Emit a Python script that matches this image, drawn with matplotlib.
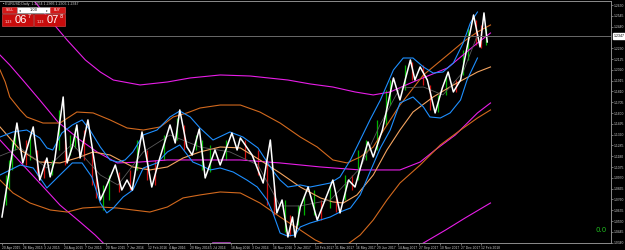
import numpy as np
import matplotlib
matplotlib.use("Agg")
import matplotlib.pyplot as plt
from matplotlib.patches import Rectangle
from matplotlib.transforms import blended_transform_factory

# x axis: bar numbers, a date label every 32 bars
date_labels = ["20 Apr 2015", "26 May 2015", "3 Jul 2015", "24 Aug 2015", "7 Oct 2015",
               "20 Nov 2015", "7 Jan 2016", "12 Feb 2016", "4 Apr 2016", "20 May 2016",
               "5 Jul 2016", "18 Aug 2016", "3 Oct 2016", "16 Nov 2016", "2 Jan 2017",
               "13 Feb 2017", "31 Mar 2017", "16 May 2017", "29 Jun 2017", "14 Aug 2017",
               "27 Sep 2017", "10 Nov 2017", "27 Dec 2017", "12 Feb 2018"]
label_step = 32

# y axis: price scale
price_top = 1.2650
price_step = 0.0105
n_price_ticks = 23
last_price = 1.2347
header = "EURUSD,Daily  1.2354 1.2366 1.2306 1.2347"

# white zigzag
zz_bar = [0, 23, 32, 48, 58, 69, 74, 81, 94, 100, 108, 115, 120, 132, 151, 158, 174, 184, 192, 200,
          215, 230, 240, 258, 266, 273, 284, 292, 303, 312, 327, 335, 353, 361, 366, 384, 401, 412, 422, 430,
          439, 446, 450, 458, 470, 484, 496, 508, 519, 532, 542, 555, 562, 570, 584, 601, 611, 627, 634, 642,
          653, 665, 676, 685, 693, 704, 724, 734, 740, 745]
zz_price = [1.0590, 1.1503, 1.1115, 1.1465, 1.0949, 1.1163, 1.0979, 1.1144, 1.1756, 1.1115,
            1.1270, 1.1484, 1.1163, 1.1533, 1.0755, 1.0852, 1.1095, 1.0852, 1.0949, 1.0852,
            1.1416, 1.0881, 1.1115, 1.1484, 1.1309, 1.1630, 1.1270, 1.1192, 1.1445, 1.0969,
            1.1241, 1.1095, 1.1406, 1.1241, 1.1358, 1.1192, 1.0920, 1.1338, 1.0629, 1.0755,
            1.0395, 1.0590, 1.0395, 1.0687, 1.0881, 1.0561, 1.0755, 1.0949, 1.0629, 1.0949,
            1.0881, 1.1173, 1.1319, 1.1173, 1.1435, 1.1941, 1.1727, 1.2116, 1.1921, 1.2048,
            1.1921, 1.1601, 1.1844, 1.1999, 1.1805, 1.1921, 1.2553, 1.2242, 1.2573, 1.2291]

# short bands (blue) and their middle (gray)
bb_up_bar = [-3, 17, 38, 58, 69, 78, 92, 108, 123, 135, 151, 166, 178, 189, 201, 217, 238, 258, 273, 289,
             304, 324, 350, 370, 393, 415, 427, 439, 458, 473, 489, 504, 519, 535, 550, 565, 581, 601, 616, 631,
             647, 662, 677, 693, 708, 719, 730]
bb_up = [1.1367, 1.1416, 1.1435, 1.1358, 1.1261, 1.1241, 1.1406, 1.1484, 1.1533, 1.1435,
         1.1270, 1.1144, 1.1124, 1.1144, 1.1222, 1.1387, 1.1435, 1.1562, 1.1620, 1.1562,
         1.1455, 1.1338, 1.1416, 1.1367, 1.1261, 1.1047, 1.0949, 1.0881, 1.0901, 1.0881,
         1.0901, 1.0920, 1.0979, 1.1144, 1.1338, 1.1533, 1.1727, 1.2019, 1.2135, 1.2135,
         1.2048, 1.1989, 1.1999, 1.2087, 1.2281, 1.2475, 1.2582]
bb_lo_bar = [-3, 28, 48, 69, 86, 108, 123, 138, 151, 161, 171, 186, 201, 217, 238, 254, 273, 293, 304, 320,
             335, 355, 376, 392, 407, 416, 427, 438, 450, 458, 473, 489, 504, 519, 535, 550, 565, 581, 596, 611,
             631, 647, 657, 673, 688, 704, 714, 730]
bb_lo = [1.0998, 1.1095, 1.1066, 1.0872, 1.0979, 1.1115, 1.1115, 1.0979, 1.0726, 1.0629,
         1.0677, 1.0784, 1.0852, 1.1066, 1.1115, 1.1222, 1.1290, 1.1124, 1.1095, 1.1047,
         1.1066, 1.1027, 1.0949, 1.0881, 1.0755, 1.0629, 1.0434, 1.0405, 1.0415, 1.0493,
         1.0531, 1.0561, 1.0590, 1.0638, 1.0677, 1.0804, 1.1027, 1.1261, 1.1435, 1.1698,
         1.1756, 1.1659, 1.1562, 1.1552, 1.1601, 1.1727, 1.1921, 1.2135]
bb_mid_bar = [-3, 28, 69, 108, 151, 178, 217, 258, 304, 350, 393, 427, 458, 504, 550, 581, 611, 647, 677, 708, 730]
bb_mid = [1.1183, 1.1261, 1.1066, 1.1299, 1.0998, 1.0901, 1.1222, 1.1387, 1.1270, 1.1222,
          1.1095, 1.0697, 1.0697, 1.0755, 1.1066, 1.1494, 1.1844, 1.1853, 1.1776, 1.1999, 1.2359]

# medium bands (orange)
or_up_bar = [-3, 5, 12, 28, 38, 63, 89, 115, 140, 166, 192, 217, 243, 263, 284, 304, 335, 366, 396, 427,
             458, 484, 508, 530, 550, 570, 591, 611, 647, 684, 708, 730, 750]
or_up = [1.2019, 1.1902, 1.1756, 1.1630, 1.1562, 1.1503, 1.1503, 1.1610, 1.1601, 1.1533,
         1.1455, 1.1435, 1.1465, 1.1562, 1.1601, 1.1649, 1.1678, 1.1678, 1.1610, 1.1503,
         1.1367, 1.1270, 1.1144, 1.1115, 1.1173, 1.1270, 1.1484, 1.1678, 1.1970, 1.2164,
         1.2291, 1.2388, 1.2456]
or_mid_bar = [-3, 28, 58, 89, 115, 140, 166, 201, 227, 254, 278, 304, 335, 366, 396, 427, 458, 489, 508, 524,
              545, 570, 591, 611, 631, 662, 693, 730, 750]
or_mid = [1.1465, 1.1241, 1.1124, 1.1115, 1.1163, 1.1222, 1.1192, 1.1076, 1.1047, 1.1076,
          1.1163, 1.1222, 1.1270, 1.1261, 1.1144, 1.1017, 1.0881, 1.0775, 1.0736, 1.0726,
          1.0804, 1.0998, 1.1241, 1.1435, 1.1610, 1.1756, 1.1873, 1.1999, 1.2048]
or_lo_bar = [-3, 17, 43, 74, 100, 124, 151, 177, 201, 227, 254, 278, 304, 335, 366, 396, 427, 458, 481, 501,
             527, 550, 570, 591, 611, 642, 673, 704, 730, 750]
or_lo = [1.0949, 1.0823, 1.0726, 1.0658, 1.0638, 1.0677, 1.0687, 1.0677, 1.0658, 1.0638,
         1.0687, 1.0775, 1.0804, 1.0833, 1.0823, 1.0726, 1.0590, 1.0463, 1.0366, 1.0308,
         1.0308, 1.0415, 1.0561, 1.0755, 1.0920, 1.1095, 1.1290, 1.1435, 1.1552, 1.1630]

# long bands (magenta); the lower one leaves the window and comes back
mg_up_bar = [40, 48, 74, 100, 128, 151, 171, 212, 254, 289, 335, 381, 439, 473, 508, 542, 570, 596, 631, 684, 730, 750]
mg_up = [1.2748, 1.2699, 1.2505, 1.2310, 1.2116, 1.1999, 1.1921, 1.1873, 1.1902, 1.1941,
         1.1970, 1.1960, 1.1921, 1.1883, 1.1853, 1.1805, 1.1776, 1.1805, 1.1902, 1.2038, 1.2281, 1.2378]
mg_mid_bar = [-3, 12, 32, 58, 86, 120, 146, 177, 212, 254, 304, 366, 427, 489, 550, 611, 642, 665, 696, 730, 750]
mg_mid = [1.2164, 1.2067, 1.1921, 1.1727, 1.1513, 1.1338, 1.1222, 1.1115, 1.1124, 1.1144,
          1.1144, 1.1144, 1.1115, 1.1076, 1.1047, 1.1047, 1.1124, 1.1241, 1.1387, 1.1601, 1.1698]
mg_lo_bar = [-3, 28, 58, 89, 120, 143, 163, np.nan, 630, 647, 681, 711, 750]
mg_lo = [1.1338, 1.1124, 1.0920, 1.0706, 1.0541, 1.0415, 1.0289, np.nan, 1.0269, 1.0337, 1.0463, 1.0580, 1.0726]

# visible candles: bar, high, low, up(1)/down(0)
cd_bar = [6, 11, 15, 20, 37, 43, 54, 65, 77, 88, 97, 105, 112, 126, 138, 144, 155, 164, 180, 197,
          207, 223, 235, 249, 269, 280, 298, 307, 320, 344, 373, 393, 407, 418, 435, 442, 455, 464, 479, 490,
          504, 513, 527, 538, 547, 559, 576, 590, 596, 619, 630, 647, 657, 670, 681, 697, 708, 716, 728, 736, 743]
cd_high = [1.0998, 1.1144, 1.1338, 1.1435, 1.1338, 1.1387, 1.1241, 1.1144, 1.1144, 1.1630,
           1.1338, 1.1387, 1.1455, 1.1435, 1.1241, 1.1047, 1.0901, 1.0998, 1.1027, 1.1047,
           1.1338, 1.1241, 1.1144, 1.1387, 1.1552, 1.1484, 1.1387, 1.1338, 1.1290, 1.1338,
           1.1338, 1.1241, 1.1144, 1.0901, 1.0755, 1.0609, 1.0706, 1.0804, 1.0852, 1.0755,
           1.0901, 1.0804, 1.0998, 1.0998, 1.1241, 1.1338, 1.1533, 1.1824, 1.1921, 1.2067,
           1.2096, 1.2067, 1.1873, 1.1776, 1.1970, 1.1921, 1.2213, 1.2427, 1.2505, 1.2456, 1.2427]
cd_low = [1.0706, 1.0852, 1.1047, 1.1241, 1.1095, 1.1144, 1.0998, 1.0969, 1.0998, 1.1241,
          1.1095, 1.1192, 1.1261, 1.1144, 1.0901, 1.0775, 1.0658, 1.0755, 1.0833, 1.0852,
          1.1047, 1.0949, 1.0901, 1.1144, 1.1338, 1.1241, 1.1241, 1.1047, 1.1027, 1.1144,
          1.1144, 1.0998, 1.0706, 1.0609, 1.0444, 1.0405, 1.0512, 1.0609, 1.0609, 1.0561,
          1.0677, 1.0638, 1.0755, 1.0852, 1.0949, 1.1144, 1.1241, 1.1484, 1.1678, 1.1824,
          1.1921, 1.1873, 1.1630, 1.1610, 1.1776, 1.1805, 1.1970, 1.2116, 1.2262, 1.2232, 1.2262]
cd_up = [1, 1, 1, 1, 0, 1, 0, 0, 1, 1, 0, 1, 1, 0, 0, 0, 1, 1, 0, 0,
         1, 0, 0, 1, 1, 0, 1, 1, 1, 1, 0, 0, 0, 0, 1, 0, 1, 1, 1, 0,
         1, 0, 1, 0, 1, 1, 1, 1, 1, 1, 0, 0, 0, 1, 1, 0, 1, 1, 0, 0, 1]

W, H = 625, 250
fig = plt.figure(figsize=(W / 100, H / 100), dpi=100, facecolor="black")
ax = fig.add_axes([0, 7 / H, 611 / W, 242 / H], facecolor="black")

ax.vlines(cd_bar, cd_low, cd_high, colors=["#00b400" if u else "#d01010" for u in cd_up], lw=0.9)

ax.plot(mg_up_bar, mg_up, color="#e81ee8", lw=0.8)
ax.plot(mg_mid_bar, mg_mid, color="#e81ee8", lw=0.8)
ax.plot(mg_lo_bar, mg_lo, color="#e81ee8", lw=0.8)
ax.plot(or_up_bar, or_up, color="#d2691e", lw=0.8)
ax.plot(or_lo_bar, or_lo, color="#d2691e", lw=0.8)
ax.plot(or_mid_bar, or_mid, color="#f4a460", lw=0.8)
ax.plot(bb_mid_bar, bb_mid, color="#5a5a5a", lw=0.6)
ax.plot(bb_up_bar, bb_up, color="#1e8fff", lw=0.8)
ax.plot(bb_lo_bar, bb_lo, color="#1e8fff", lw=0.8)
ax.plot(zz_bar, zz_price, color="white", lw=1.1)

# current price line and its label on the axis
ax.axhline(last_price, color="#6a6a6a", lw=0.7)
trans = blended_transform_factory(ax.transAxes, ax.transData)
ax.text(1.004, last_price, f"{last_price:.4f}", transform=trans, fontsize=2.5,
        color="black", va="center", ha="left", family="Liberation Sans",
        bbox=dict(boxstyle="square,pad=0.25", fc="white", ec="white"))

ax.set_xlim(-3, 935)
ax.set_ylim(1.0337, 1.2689)

# the tick hidden under the price label is left out
yt = [price_top - price_step * k for k in range(n_price_ticks)]
yt = [v for v in yt if abs(v - last_price) > 0.005]
ax.set_yticks(yt)
ax.set_yticklabels([f"{v:.4f}" for v in yt])
ax.yaxis.tick_right()
xt = [label_step * i for i in range(len(date_labels))]
ax.set_xticks(xt)
ax.set_xticklabels(date_labels)
for lab in ax.get_xticklabels():
    lab.set_horizontalalignment("left")
ax.tick_params(axis="both", colors="#9a9a9a", labelcolor="#c8c8c8", labelsize=2.4,
               length=1.5, width=0.5, pad=0.8)
for lab in ax.get_xticklabels() + ax.get_yticklabels():
    lab.set_family("Liberation Sans")

ax.spines["left"].set_visible(False)
for side in ["right", "bottom", "top"]:
    ax.spines[side].set_color("#8c8c8c")
    ax.spines[side].set_linewidth(0.7)

# purple marker on the time axis
ax.plot([324, 350], [1.0337, 1.0337], color="#b040c0", lw=1.2, clip_on=False)

# indicator value
fig.text(595 / W, 1 - 230 / H, "0.0", color="#1fc01f", fontsize=5, va="center", ha="left")

# header
fig.text(3 / W, 1 - 3.5 / H, "\u25aa " + header, color="#d0d0d0", fontsize=2.6,
         va="center", ha="left", family="Liberation Sans")

# one-click trading panel
pa = fig.add_axes([0, 1 - 28 / H, 70 / W, 28 / H])
pa.set_xlim(0, 70)
pa.set_ylim(28, 0)
pa.axis("off")
pa.patch.set_alpha(0)
pa.add_patch(Rectangle((2, 6.5), 15, 6.5, fc="#d41818", ec="#f06060", lw=0.4))
pa.add_patch(Rectangle((17, 6.5), 33, 6.5, fc="white", ec="#a0a0a0", lw=0.4))
pa.add_patch(Rectangle((50, 6.5), 15, 6.5, fc="#d41818", ec="#f06060", lw=0.4))
pa.text(9.5, 9.8, "SELL", color="white", fontsize=2.4, ha="center", va="center")
pa.text(57.5, 9.8, "BUY", color="white", fontsize=2.4, ha="center", va="center")
pa.text(33.5, 9.8, "1.00", color="black", fontsize=2.6, ha="center", va="center")
pa.text(20, 9.8, "\u25c2", color="#555555", fontsize=2.6, ha="center", va="center")
pa.text(47, 9.8, "\u25b8", color="#555555", fontsize=2.6, ha="center", va="center")
for x0, big, sup in [(2, "06", "7"), (34, "07", "8")]:
    pa.add_patch(Rectangle((x0, 13.5), 31, 12, fc="#c80c0c", ec="#f05050", lw=0.4))
    pa.text(x0 + 3, 22, "1.23", color="white", fontsize=2.4, ha="left", va="center")
    pa.text(x0 + 12.5, 20, big, color="white", fontsize=8, ha="left", va="center",
            family="Liberation Sans")
    pa.text(x0 + 25.5, 16.5, sup, color="white", fontsize=3.5, ha="left", va="center")

fig.savefig("out.png", dpi=100, facecolor="black")
